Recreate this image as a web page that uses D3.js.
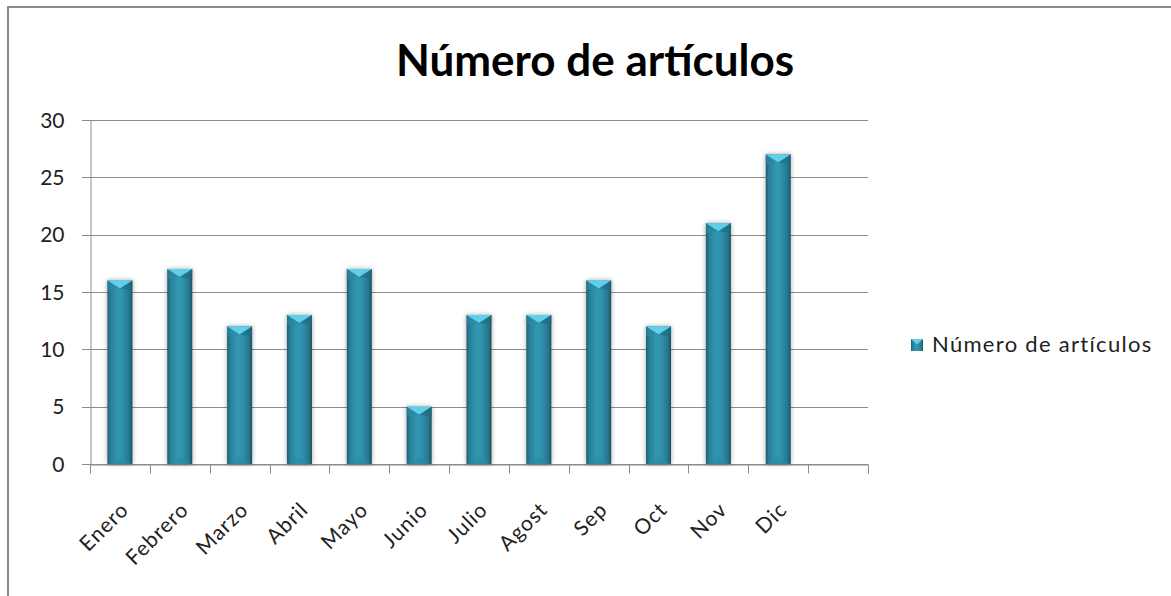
<!DOCTYPE html>
<html><head><meta charset="utf-8">
<script src="https://cdn.jsdelivr.net/npm/d3@7"></script>
<style>body{margin:0;background:#fff}svg{display:block}</style>
</head><body>
<script>
const categories = ["Enero","Febrero","Marzo","Abril","Mayo","Junio","Julio","Agost","Sep","Oct","Nov","Dic",""];
const values = [16,17,12,13,17,5,13,13,16,12,21,27];
const yTicks = [0,5,10,15,20,25,30];
const title = "Número de artículos";
const seriesName = "Número de artículos";

const W = 1171, H = 596;
const svg = d3.select("body").append("svg").attr("width", W).attr("height", H);
const font = "Lato, 'Open Sans', sans-serif";

const defs = svg.append("defs");
const g1 = defs.append("linearGradient").attr("id","barg").attr("x1","0").attr("x2","1").attr("y1","0").attr("y2","0");
[[0,"#1d5d70"],[0.12,"#2a7f96"],[0.4,"#3197b2"],[0.6,"#2f92ad"],[0.88,"#26768c"],[1,"#1a4f5f"]].forEach(([o,c])=>g1.append("stop").attr("offset",o).attr("stop-color",c));
const flt = defs.append("filter").attr("id","sh").attr("x","-30%").attr("y","-10%").attr("width","160%").attr("height","120%");
flt.append("feGaussianBlur").attr("in","SourceAlpha").attr("stdDeviation",2.5).attr("result","b");
flt.append("feComponentTransfer").attr("in","b").attr("result","o2").append("feFuncA").attr("type","linear").attr("slope",0.35);
const fm = flt.append("feMerge"); fm.append("feMergeNode").attr("in","o2"); fm.append("feMergeNode").attr("in","SourceGraphic");

// border
svg.append("path").attr("d","M8,600 L8,7 L1175,7").attr("fill","none").attr("stroke","#8a8a8a").attr("stroke-width",2);

const x = d3.scaleBand().domain(categories).range([90,868]).paddingInner(0).paddingOuter(0);
const y = d3.scaleLinear().domain([0,30]).range([464,120]);

// gridlines
svg.append("g").selectAll("line").data(yTicks).join("line")
  .attr("x1",82).attr("x2",868).attr("y1",d=>Math.round(y(d))+0.5).attr("y2",d=>Math.round(y(d))+0.5)
  .attr("stroke","#8c8c8c").attr("stroke-width",1);

// y axis
const ya = d3.axisLeft(y).tickValues(yTicks).tickSize(0).tickPadding(26);
const yg = svg.append("g").attr("transform","translate(90.5,0)").call(ya);
yg.select(".domain").attr("stroke","#8c8c8c");
yg.selectAll("text").attr("font-family",font).attr("font-size",21).attr("fill","#222").attr("dy","0.34em");

// x axis
const xa = d3.axisBottom(x).tickSize(9).tickSizeOuter(9).tickFormat("");
const xg = svg.append("g").attr("transform","translate(0,464.5)").call(xa);
xg.select(".domain").attr("stroke","#8c8c8c");
xg.selectAll(".tick").remove();
const edges = categories.map((c)=>x(c)).concat([868]);
xg.selectAll("line.e").data(edges).join("line").attr("class","e")
  .attr("x1",d=>Math.round(d)+0.5).attr("x2",d=>Math.round(d)+0.5).attr("y1",0).attr("y2",9).attr("stroke","#8c8c8c");

// x labels
svg.append("g").selectAll("text").data(categories.filter(c=>c)).join("text")
  .attr("transform",d=>`translate(${x(d)+x.bandwidth()/2+10},${511}) rotate(-45)`)
  .attr("text-anchor","end").attr("font-family",font).attr("font-size",21).attr("letter-spacing",1).attr("fill","#222")
  .text(d=>d);

// bars
const bw = 25;
const bars = svg.append("g").selectAll("g").data(values).join("g").attr("filter","url(#sh)");
bars.append("rect")
  .attr("x",(d,i)=>x(categories[i])+x.bandwidth()/2-bw/2)
  .attr("y",d=>y(d)).attr("width",bw).attr("height",d=>y(0)-y(d))
  .attr("fill","url(#barg)");
// top bevel
bars.append("path").attr("d",(d,i)=>{
  const l = x(categories[i])+x.bandwidth()/2-bw/2, t = y(d);
  return `M${l},${t} L${l+bw},${t} L${l+bw/2},${t+8} Z`;
}).attr("fill","#5fd0ea");
bars.append("path").attr("d",(d,i)=>{
  const l = x(categories[i])+x.bandwidth()/2-bw/2, t = y(d);
  return `M${l},${t} L${l+bw/2},${t+8} L${l},${t+10} Z`;
}).attr("fill","#2a8aa3").attr("opacity",0.6);
bars.append("path").attr("d",(d,i)=>{
  const l = x(categories[i])+x.bandwidth()/2-bw/2, t = y(d);
  return `M${l+bw},${t} L${l+bw/2},${t+8} L${l+bw},${t+10} Z`;
}).attr("fill","#1f6b80").attr("opacity",0.6);
// bottom bevel
bars.append("path").attr("d",(d,i)=>{
  const l = x(categories[i])+x.bandwidth()/2-bw/2, b = y(0);
  return `M${l+2},${b} L${l+bw-2},${b} L${l+bw/2},${b-7} Z`;
}).attr("fill","#2c8aa3").attr("opacity",0.7);

// title
svg.append("text").attr("x",595).attr("y",76).attr("text-anchor","middle")
  .attr("font-family",font).attr("font-weight","bold").attr("font-size",44).attr("fill","#000").text(title);

// legend
const lg = svg.append("g");
lg.append("rect").attr("x",911).attr("y",339).attr("width",12).attr("height",12).attr("fill","url(#barg)");
lg.append("path").attr("d","M911,339 L923,339 L917,344.5 Z").attr("fill","#5fd0ea");
lg.append("text").attr("x",932).attr("y",352).attr("font-family",font).attr("font-size",22).attr("letter-spacing",1.3).attr("fill","#222").text(seriesName);
</script>
</body></html>
